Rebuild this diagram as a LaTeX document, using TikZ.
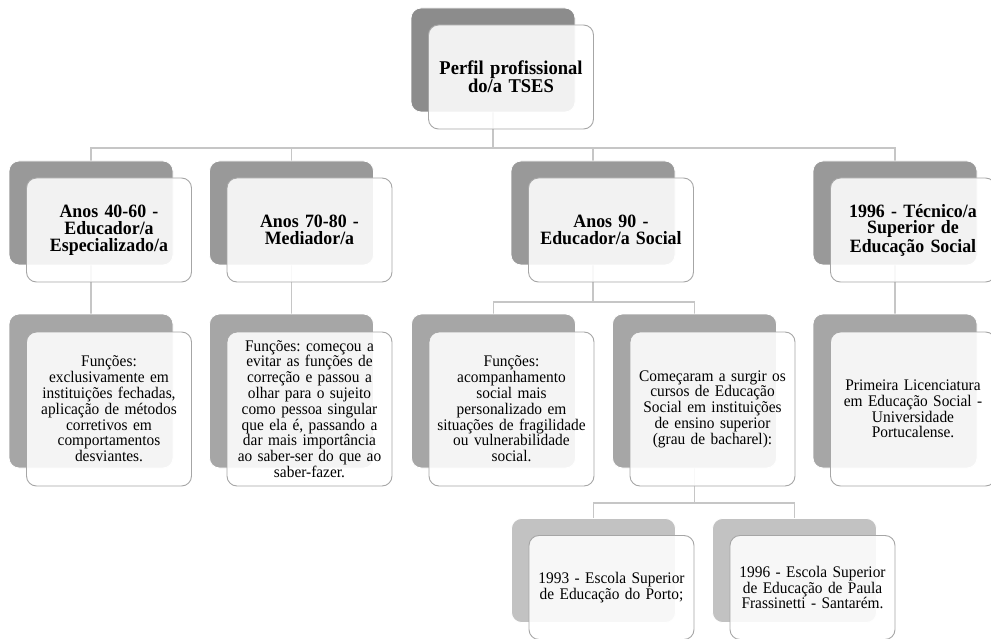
\documentclass[tikz,border=0pt]{standalone}
\usepackage{fontspec}
\setmainfont{Liberation Serif}
\newfontfamily\boxfont[FakeStretch=0.95]{Liberation Serif}
\usetikzlibrary{positioning, backgrounds}

\definecolor{lvlone}{HTML}{8C8C8C}
\definecolor{lvltwo}{HTML}{999999}
\definecolor{lvlthree}{HTML}{A6A6A6}
\definecolor{lvlfour}{HTML}{C2C2C2}

\tikzset{
    backbox/.style={draw=white, line width=0.8pt, rounded corners=10pt, minimum width=164pt, minimum height=104pt, inner sep=0pt},
    frontbox/.style={draw=gray!70, line width=0.9pt, fill=white, fill opacity=0.88, text opacity=1, rounded corners=10pt, minimum width=165pt, minimum height=104pt, text width=158pt, align=center, inner sep=0pt},
    tallbox/.style={minimum height=154pt},
    title/.style={font=\boxfont\fontsize{18.8}{16.9}\selectfont\bfseries\frenchspacing},
    toptitle/.style={font=\boxfont\fontsize{19.5}{17.7}\selectfont\bfseries\frenchspacing},
    body/.style={font=\boxfont\fontsize{16.2}{15.8}\selectfont\frenchspacing},
    conn/.style={draw=gray!45, line width=1.6pt}
}

\begin{document}
\begin{tikzpicture}[x=1pt, y=1pt]
        \useasboundingbox (0,0) rectangle (991,-639);
        \clip (0,0) rectangle (991,-639);

        \node[backbox, fill=lvlone] (perfilB) at (493,-60) {};
        \node[frontbox, toptitle] (perfil) at (511,-77) {Perfil profissional\\do/a TSES};

        \node[backbox, fill=lvltwo] (anos40B) at (91,-213) {};
        \node[frontbox, title] (anos40) at (109,-230) {Anos 40-60 -\\Educador/a\\Especializado/a};

        \node[backbox, fill=lvltwo] (anos70B) at (291.5,-213) {};
        \node[frontbox, title] (anos70) at (309.5,-230) {Anos 70-80 -\\Mediador/a};

        \node[backbox, fill=lvltwo] (anos90B) at (593,-213) {};
        \node[frontbox, title] (anos90) at (611,-230) {Anos 90 -\\Educador/a Social};

        \node[backbox, fill=lvltwo] (tecnicoB) at (895,-213) {};
        \node[frontbox, title] (tecnico) at (913,-230) {1996 - Técnico/a\\Superior de\\Educação Social};

        \node[backbox, tallbox, fill=lvlthree] (funcoes40B) at (91,-391) {};
        \node[frontbox, tallbox, body] (funcoes40) at (109,-409) {Funções:\\exclusivamente em\\instituições fechadas,\\aplicação de métodos\\corretivos em\\comportamentos\\desviantes.};

        \node[backbox, tallbox, fill=lvlthree] (funcoes70B) at (291.5,-391) {};
        \node[frontbox, tallbox, body] (funcoes70) at (309.5,-409) {Funções: começou a\\evitar as funções de\\correção e passou a\\olhar para o sujeito\\como pessoa singular\\que ela é, passando a\\dar mais importância\\ao saber-ser do que ao\\saber-fazer.};

        \node[backbox, tallbox, fill=lvlthree] (funcoes90B) at (493.5,-391) {};
        \node[frontbox, tallbox, body] (funcoes90) at (511.5,-409) {Funções:\\acompanhamento\\social mais\\personalizado em\\situações de fragilidade\\ou vulnerabilidade\\social.};

        \node[backbox, tallbox, fill=lvlthree] (cursosB) at (694.5,-391) {};
        \node[frontbox, tallbox, body] (cursos) at (712.5,-409) {Começaram a surgir os\\cursos de Educação\\Social em instituições\\de ensino superior\\(grau de bacharel):};

        \node[backbox, tallbox, fill=lvlthree] (licenciaturaB) at (895,-391) {};
        \node[frontbox, tallbox, body] (licenciatura) at (913,-409) {Primeira Licenciatura\\em Educação Social -\\Universidade\\Portucalense.};

        \node[backbox, fill=lvlfour] (portoB) at (593.5,-570.5) {};
        \node[frontbox, body] (porto) at (611.5,-587.5) {1993 - Escola Superior\\de Educação do Porto;};

        \node[backbox, fill=lvlfour] (paulaB) at (794.5,-570.5) {};
        \node[frontbox, body] (paula) at (812.5,-587.5) {1996 - Escola Superior\\de Educação de Paula\\Frassinetti - Santarém.};

        \coordinate (perfilJ) at (493,-148);
        \coordinate (anos90J) at (593,-302);
        \coordinate (cursosJ) at (694.5,-503);

        \begin{scope}[on background layer]
            \draw[conn] (perfilB.south) -- (perfilJ) -| (anos40B.north);
            \draw[conn] (perfilJ) -| (anos70B.north);
            \draw[conn] (perfilJ) -| (anos90B.north);
            \draw[conn] (perfilJ) -| (tecnicoB.north);

            \draw[conn] (anos40B.south) -- (funcoes40B.north);
            \draw[conn] (anos70B.south) -- (funcoes70B.north);
            \draw[conn] (tecnicoB.south) -- (licenciaturaB.north);

            \draw[conn] (anos90B.south) -- (anos90J) -| (funcoes90B.north);
            \draw[conn] (anos90J) -| (cursosB.north);

            \draw[conn] (cursosB.south) -- (cursosJ) -| (portoB.north);
            \draw[conn] (cursosJ) -| (paulaB.north);
        \end{scope}

    \end{tikzpicture}
\end{document}
